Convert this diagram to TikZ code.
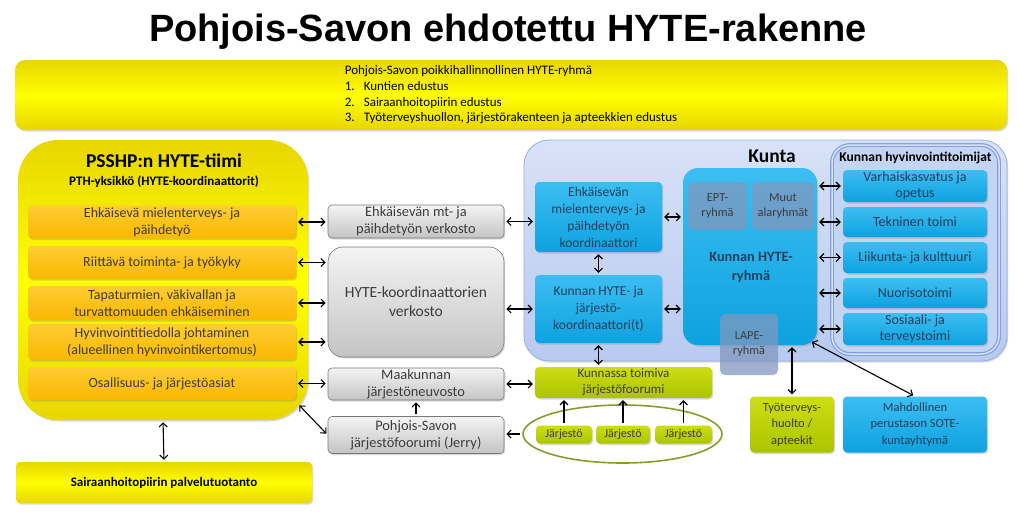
\documentclass[tikz,border=0pt]{standalone}
\usepackage{fontspec}
\setmainfont{Carlito}
\newfontfamily\titlefont{Liberation Sans}
\usetikzlibrary{shapes.geometric,shadows,arrows.meta}

\begin{document}
\begin{tikzpicture}[x=1pt,y=-1pt,
	>={Straight Barb[length=4pt,width=8pt]},
	link/.style={<->,line width=1.1pt,shorten <=2pt,shorten >=2pt},
	uplink/.style={->,line width=1.1pt,shorten <=2pt,shorten >=2pt},
	box/.style={rounded corners=4pt,align=center,inner sep=1pt,
		drop shadow={opacity=0.3,shadow xshift=1.2pt,shadow yshift=-1.5pt}},
	yellowbox/.style={box,top color=yellowdark,bottom color=yellowdark,middle color=yellowlight},
	orangebox/.style={box,top color=orangelight,bottom color=orangedark,text=textgray,
		minimum width=268pt,font=\fontsize{14}{17}\selectfont},
	graybox/.style={box,draw=graydraw,line width=0.6pt,top color=graylight,bottom color=graydark,
		text=textgray,minimum width=176pt,font=\fontsize{14.4}{17}\selectfont},
	bluebox/.style={box,top color=bluelight,bottom color=bluedark,text=textblue},
	greenbox/.style={box,top color=greenlight,bottom color=greendark,text=textgray},
	subbox/.style={rounded corners=5pt,fill=subblue,fill opacity=0.75,text opacity=1,align=center,
		text=textgray,inner sep=1pt,font=\fontsize{12.3}{15}\selectfont}
	]
	\definecolor{yellowlight}{RGB}{255,255,0}
	\definecolor{yellowdark}{RGB}{232,214,0}
	\definecolor{orangelight}{RGB}{255,204,51}
	\definecolor{orangedark}{RGB}{250,184,0}
	\definecolor{graylight}{RGB}{244,244,244}
	\definecolor{graydark}{RGB}{196,196,196}
	\definecolor{graydraw}{RGB}{120,120,120}
	\definecolor{bluelight}{RGB}{60,190,242}
	\definecolor{bluedark}{RGB}{14,162,224}
	\definecolor{greenlight}{RGB}{205,222,20}
	\definecolor{greendark}{RGB}{172,196,0}
	\definecolor{ringgreen}{RGB}{138,156,40}
	\definecolor{kuntalight}{RGB}{216,226,247}
	\definecolor{kuntadark}{RGB}{184,202,240}
	\definecolor{kuntadraw}{RGB}{150,176,226}
	\definecolor{innerblue}{RGB}{196,212,243}
	\definecolor{innerdraw}{RGB}{130,160,222}
	\definecolor{subblue}{RGB}{128,152,190}
	\definecolor{textgray}{RGB}{60,60,60}
	\definecolor{textblue}{RGB}{36,62,92}
	
	\useasboundingbox[fill=white] (0,0) rectangle (1023,515);
	
	% title and top group
	\node[font=\titlefont\fontsize{38}{40}\selectfont\bfseries] (title) at (508,32) {Pohjois-Savon ehdotettu HYTE-rakenne};
	\node[yellowbox,rounded corners=10pt,minimum width=992pt,minimum height=70pt,align=left,
		font=\fontsize{13}{15.7}\selectfont] (hyteryhma) at (511,95)
		{Pohjois-Savon poikkihallinnollinen HYTE-ryhmä\\
		\makebox[19pt][l]{1.}Kuntien edustus\\
		\makebox[19pt][l]{2.}Sairaanhoitopiirin edustus\\
		\makebox[19pt][l]{3.}Työterveyshuollon, järjestörakenteen ja apteekkien edustus};
	
	% PSSHP team
	\node[yellowbox,rounded corners=40pt,minimum width=290pt,minimum height=280pt] (psshp) at (163,280) {};
	\node[font=\bfseries\fontsize{19.5}{22}\selectfont] (psshptitle) at (164,161) {PSSHP:n HYTE-tiimi};
	\node[font=\bfseries\fontsize{13}{15}\selectfont] (pth) at (164,182) {PTH-yksikkö (HYTE-koordinaattorit)};
	\node[orangebox,minimum height=33pt] (mielen) at (162,222) {Ehkäisevä mielenterveys- ja\\päihdetyö};
	\node[orangebox,minimum height=33pt] (tyokyky) at (162,262.5) {Riittävä toiminta- ja työkyky};
	\node[orangebox,minimum height=34pt] (tapat) at (162,303) {Tapaturmien, väkivallan ja\\turvattomuuden ehkäiseminen};
	\node[orangebox,minimum height=36pt] (tieto) at (162,342) {Hyvinvointitiedolla johtaminen\\(alueellinen hyvinvointikertomus)};
	\node[orangebox,minimum height=33pt] (osall) at (162,383.5) {Osallisuus- ja järjestöasiat};
	\coordinate (psshpcorner) at (298,404);
	
	\node[yellowbox,minimum width=296pt,minimum height=41pt,font=\bfseries\fontsize{13}{15}\selectfont] (palvelu) at (164,482.5) {Sairaanhoitopiirin palvelutuotanto};
	
	% networks
	\node[graybox,minimum height=33pt] (mtverkosto) at (416,221.5) {Ehkäisevän mt- ja\\päihdetyön verkosto};
	\node[graybox,rounded corners=15pt,minimum height=110pt,font=\fontsize{15.5}{19}\selectfont] (koordverkosto) at (416,302) {HYTE-koordinaattorien\\verkosto};
	\node[graybox,minimum height=32pt] (neuvosto) at (416,384) {Maakunnan\\järjestöneuvosto};
	\node[graybox,minimum height=37pt] (jerry) at (416,435) {Pohjois-Savon\\järjestöfoorumi (Jerry)};
	
	% Kunta
	\node[box,top color=kuntalight,bottom color=kuntadark,draw=kuntadraw,line width=0.8pt,rounded corners=25pt,
		minimum width=483pt,minimum height=221pt] (kunta) at (765.5,250.5) {};
	\node[font=\bfseries\fontsize{19.5}{22}\selectfont] (kuntatitle) at (772,156) {Kunta};
	\node[rounded corners=18pt,fill=innerblue,draw=innerdraw,line width=1.2pt,double=kuntalight,double distance=1.5pt,
		minimum width=167pt,minimum height=209pt] (toimijat) at (915.5,249.5) {};
	\node[font=\bfseries\fontsize{13.5}{16}\selectfont] (toimijattitle) at (915.5,158) {Kunnan hyvinvointitoimijat};
	
	\node[bluebox,minimum width=144pt,minimum height=32pt,font=\fontsize{14}{16}\selectfont] (varhais) at (915,186) {Varhaiskasvatus ja\\opetus};
	\node[bluebox,minimum width=144pt,minimum height=30pt,font=\fontsize{14}{16}\selectfont] (tekninen) at (915,222) {Tekninen toimi};
	\node[bluebox,minimum width=144pt,minimum height=31pt,font=\fontsize{14}{16}\selectfont] (liikunta) at (915,257.5) {Liikunta- ja kulttuuri};
	\node[bluebox,minimum width=144pt,minimum height=30pt,font=\fontsize{14}{16}\selectfont] (nuoriso) at (915,293) {Nuorisotoimi};
	\node[bluebox,minimum width=144pt,minimum height=32pt,font=\fontsize{14}{16}\selectfont] (sosiaali) at (915,329) {Sosiaali- ja\\terveystoimi};
	
	\node[bluebox,rounded corners=15pt,minimum width=134pt,minimum height=177pt] (hyte) at (750,256.5) {};
	\node[text=textblue,font=\bfseries\fontsize{14.3}{19}\selectfont,align=center] (hytetext) at (751,267) {Kunnan HYTE-\\ryhmä};
	\node[subbox,minimum width=59pt,minimum height=48pt] (ept) at (717.5,206) {EPT-\\ryhmä};
	\node[subbox,minimum width=62pt,minimum height=48pt] (muut) at (783,206) {Muut\\alaryhmät};
	\node[subbox,minimum width=58pt,minimum height=61pt] (lape) at (749,344.5) {LAPE-\\ryhmä};
	\coordinate (hytecorner) at (810,341);
	
	\node[bluebox,minimum width=127pt,minimum height=70pt,font=\fontsize{13.5}{17}\selectfont] (mtkoord) at (598.5,217) {Ehkäisevän\\mielenterveys- ja\\päihdetyön\\koordinaattori};
	\node[bluebox,minimum width=127pt,minimum height=68pt,font=\fontsize{13.5}{17}\selectfont] (jarjkoord) at (598.5,309) {Kunnan HYTE- ja\\järjestö-\\koordinaattori(t)};
	
	% forums and partners
	\node[greenbox,minimum width=177pt,minimum height=31pt,font=\fontsize{13}{16}\selectfont] (kforum) at (623.5,382.5) {Kunnassa toimiva\\järjestöfoorumi};
	\node[draw=ringgreen,line width=1.6pt,ellipse,minimum width=199pt,minimum height=58pt] (jring) at (622.5,434) {};
	\node[greenbox,minimum width=56pt,minimum height=18pt,font=\fontsize{12}{14}\selectfont] (jarj1) at (564,434.5) {Järjestö};
	\node[greenbox,minimum width=54pt,minimum height=18pt,font=\fontsize{12}{14}\selectfont] (jarj2) at (623,434.5) {Järjestö};
	\node[greenbox,minimum width=57pt,minimum height=18pt,font=\fontsize{12}{14}\selectfont] (jarj3) at (683.5,434.5) {Järjestö};
	\node[greenbox,minimum width=84pt,minimum height=56pt,font=\fontsize{12.5}{16.5}\selectfont] (tyoterv) at (792,424.5) {Työterveys-\\huolto /\\apteekit};
	\node[bluebox,minimum width=144pt,minimum height=56pt,font=\fontsize{12.5}{16.5}\selectfont] (sote) at (915,424.5) {Mahdollinen\\perustason SOTE-\\kuntayhtymä};
	
	% connectors
	\draw[link] (mielen.east) -- (mielen.east -| mtverkosto.west);
	\draw[link] (tyokyky.east) -- (tyokyky.east -| koordverkosto.west);
	\draw[link] (tapat.east) -- (tapat.east -| koordverkosto.west);
	\draw[link] (tieto.east) -- (tieto.east -| koordverkosto.west);
	\draw[link] (osall.east) -- (osall.east -| neuvosto.west);
	\draw[link] (psshpcorner) -- (jerry.west);
	\draw[link] (psshp.south) -- (palvelu.north);
	\draw[uplink] (jerry.north) -- (neuvosto.south);
	
	\draw[link] (mtverkosto.east) -- (mtverkosto.east -| mtkoord.west);
	\draw[link] (jarjkoord.west -| koordverkosto.east) -- (jarjkoord.west);
	\draw[link] (neuvosto.east) -- (neuvosto.east -| kforum.west);
	\draw[link] (mtkoord.south) -- (jarjkoord.north);
	\draw[link] (jarjkoord.south) -- (jarjkoord.south |- kforum.north);
	\draw[link] (mtkoord.east) -- (mtkoord.east -| hyte.west);
	\draw[link] (jarjkoord.east) -- (jarjkoord.east -| hyte.west);
	
	\draw[link] (varhais.west -| hyte.east) -- (varhais.west);
	\draw[link] (tekninen.west -| hyte.east) -- (tekninen.west);
	\draw[link] (liikunta.west -| hyte.east) -- (liikunta.west);
	\draw[link] (nuoriso.west -| hyte.east) -- (nuoriso.west);
	\draw[link] (sosiaali.west -| hyte.east) -- (sosiaali.west);
	\draw[link] (tyoterv.north |- hyte.south) -- (tyoterv.north);
	\draw[link] (hytecorner) -- (sote.north);
	
	\draw[uplink] (jarj1.north) -- (jarj1.north |- kforum.south);
	\draw[uplink] (jarj2.north) -- (jarj2.north |- kforum.south);
	\draw[uplink] (jarj3.north) -- (jarj3.north |- kforum.south);
	\draw[uplink] (jring.west) -- (jring.west -| jerry.east);
	
\end{tikzpicture}
\end{document}
